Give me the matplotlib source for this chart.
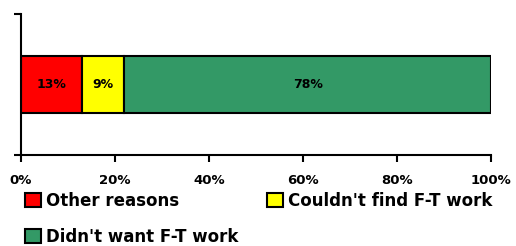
import matplotlib
matplotlib.use("Agg")
import matplotlib.pyplot as plt
from matplotlib.patches import Patch

categories = ["Other reasons", "Couldn't find F-T work", "Didn't want F-T work"]
values = [13, 9, 78]
colors = ["#FF0000", "#FFFF00", "#339966"]
xticks = [0, 20, 40, 60, 80, 100]
xticklabels = ["0%", "20%", "40%", "60%", "80%", "100%"]

plt.rcParams['font.family'] = ['DejaVu Sans']
fig = plt.figure(figsize=(5.16, 2.46), dpi=100)
ax = fig.add_axes([21/516, 1-155/246, 470/516, 141/246])

left = 0
for cat, v, c in zip(categories, values, colors):
    ax.barh(0, v, left=left, height=0.4, color=c, edgecolor="black", linewidth=1.5, label=cat)
    ax.text(left + v/2, 0, f"{v}%", ha="center", va="center", fontsize=9, fontweight="bold", color="black")
    left += v

ax.set_xlim(0, 100)
ax.set_ylim(-0.5, 0.5)
ax.set_xticks(xticks)
ax.set_xticklabels(xticklabels, fontsize=9.5, fontweight="bold")
ax.set_yticks([-0.5, 0.5])
ax.set_yticklabels([])
for s in ["top", "right"]:
    ax.spines[s].set_visible(False)
for s in ["left", "bottom"]:
    ax.spines[s].set_linewidth(1.5)
ax.tick_params(axis="both", direction="out", length=5, width=1.5)
ax.tick_params(axis="x", pad=9)

handles = [Patch(facecolor=c, edgecolor="black", linewidth=1.5) for c in colors]
order = [0, 2, 1]
fig.legend([handles[i] for i in order], [categories[i] for i in order],
           loc="upper left", bbox_to_anchor=(25/516, 1-192/246),
           ncol=2, frameon=False, prop={"weight": "bold", "size": 12},
           handlelength=0.95, handleheight=0.95, handletextpad=0.3,
           columnspacing=1.75, labelspacing=1.05, borderpad=0, borderaxespad=0)

fig.savefig("out.png", dpi=100)
